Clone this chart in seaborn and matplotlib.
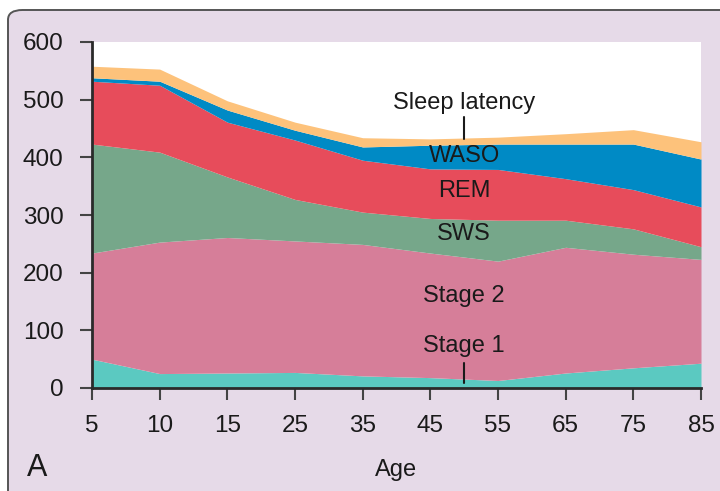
import numpy as np
import pandas as pd
import matplotlib
matplotlib.use('Agg')
import matplotlib.pyplot as plt
from matplotlib.patches import FancyBboxPatch
import seaborn as sns

# ── Data (minutes per night) ──────────────────────────────────────────
ages          = ['5', '10', '15', '25', '35', '45', '55', '65', '75', '85']
stage1        = [50, 25, 26, 27, 21, 18, 13, 26, 35, 43]
stage2        = [184, 228, 235, 228, 228, 216, 207, 218, 197, 180]
sws           = [189, 156, 105, 72, 56, 60, 71, 47, 44, 22]
rem           = [109, 116, 95, 103, 90, 86, 88, 72, 68, 69]
waso          = [6, 7, 21, 17, 23, 41, 44, 60, 79, 83]
sleep_latency = [20, 21, 16, 14, 16, 11, 12, 18, 25, 30]
y_ticks       = [0, 100, 200, 300, 400, 500, 600]

df = pd.DataFrame({
    'Age': ages,
    'Stage 1': stage1, 'Stage 2': stage2, 'SWS': sws,
    'REM': rem, 'WASO': waso, 'Sleep latency': sleep_latency,
})
layers = ['Stage 1', 'Stage 2', 'SWS', 'REM', 'WASO', 'Sleep latency']
colors = ['#5BC9C1', '#D67E99', '#76A78A', '#E74C5B', '#008AC5', '#FDC27B']

BG = '#E6DAE8'
INK = '#1a1a1a'

sns.set_theme(style='ticks')
plt.rcParams['font.family'] = ['Liberation Sans', 'DejaVu Sans']

fig = plt.figure(figsize=(7.2, 4.91), dpi=100)
fig.patch.set_facecolor('white')

# rounded panel frame
W, H = 720, 491
frame = FancyBboxPatch((8 / W, -0.2), 1.2, 1.2 - 10 / H,
                       boxstyle='round,pad=0,rounding_size=0.02',
                       transform=fig.transFigure, facecolor=BG,
                       edgecolor='#555555', linewidth=1.4, zorder=-10)
fig.patches.append(frame)

ax = fig.add_axes([92 / W, 1 - 388 / H, (701 - 92) / W, (388 - 42) / H])
ax.set_zorder(5)
ax.set_facecolor('white')

x = np.arange(len(df))
ax.stackplot(x, *[df[c] for c in layers], colors=colors, linewidth=0)

ax.set_xlim(0, len(df) - 1)
ax.set_ylim(0, 600)
ax.set_xticks(x)
ax.set_xticklabels(df['Age'])
ax.set_yticks(y_ticks)
sns.despine(ax=ax)
for s in ['left', 'bottom']:
    ax.spines[s].set_linewidth(2.0)
    ax.spines[s].set_color('#2a2a2a')
ax.tick_params(axis='both', length=8.5, width=1.5, color='#444444',
               labelsize=17.5, labelcolor=INK)
ax.tick_params(axis='y', pad=12)
ax.tick_params(axis='x', pad=11)
ax.set_xlabel('Age', fontsize=17, color=INK, labelpad=16)
ax.set_ylabel('')

# ── Layer labels ──────────────────────────────────────────────────────
lx = 5.5
lab = dict(ha='center', va='center', fontsize=17, color=INK)
ax.text(lx, 494, 'Sleep latency', **lab)
ax.plot([lx, lx], [470, 432], color=INK, lw=1.5)
ax.text(lx, 403, 'WASO', **lab)
ax.text(lx, 341, 'REM', **lab)
ax.text(lx, 267, 'SWS', **lab)
ax.text(lx, 160, 'Stage 2', **lab)
ax.text(lx, 73, 'Stage 1', **lab)
ax.plot([lx, lx], [43, 8], color=INK, lw=1.5)

fig.text(37 / W, 1 - 468 / H, 'A', fontsize=22, ha='center', va='center',
         color=INK)

fig.savefig('out.png', dpi=100, facecolor=fig.get_facecolor())
plt.close(fig)
